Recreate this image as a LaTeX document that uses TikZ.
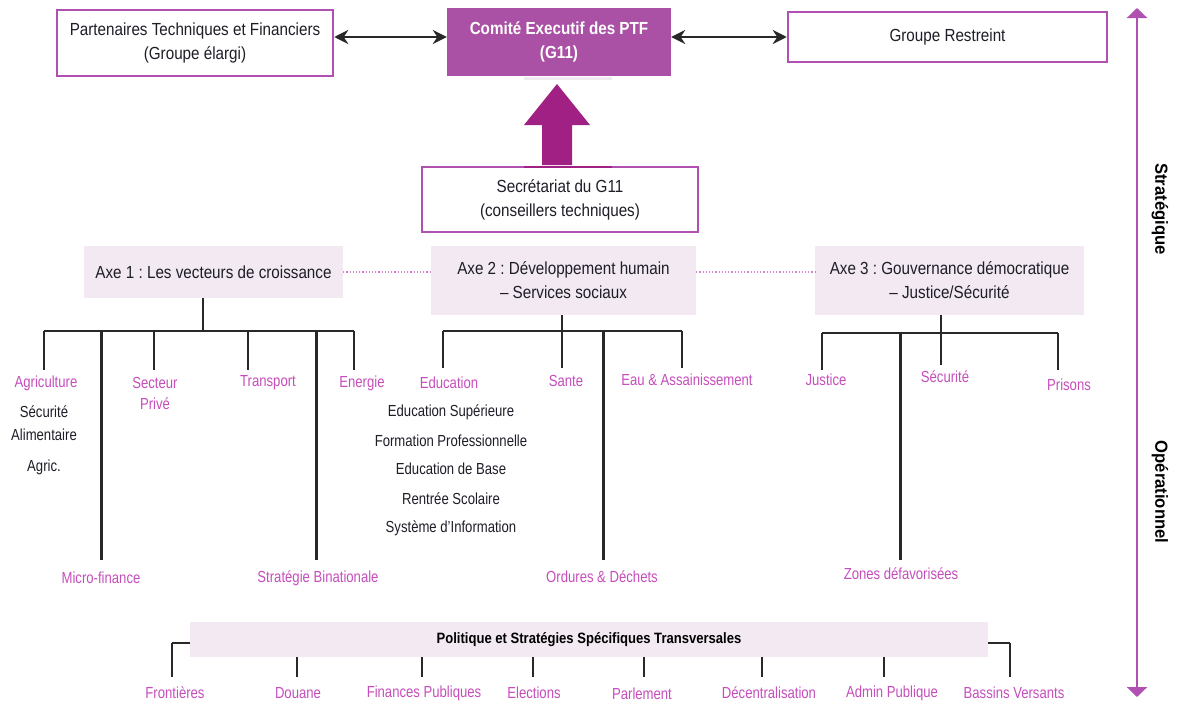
\documentclass[tikz,border=0pt]{standalone}
\usepackage{fontspec}
\setmainfont{Liberation Sans}[FakeStretch=0.87]
\newfontfamily\narrowf{Liberation Sans}[FakeStretch=0.82]
\newfontfamily\vertf{Liberation Sans}[FakeStretch=0.95]
\usetikzlibrary{arrows.meta}
\frenchspacing
\definecolor{boxpurple}{RGB}{176,80,176}
\definecolor{fillpurple}{RGB}{170,80,165}
\definecolor{bigpurple}{RGB}{160,32,132}
\definecolor{labpink}{RGB}{198,78,188}
\definecolor{lilac}{RGB}{242,233,242}
\definecolor{treegray}{RGB}{40,40,40}
\definecolor{dotpink}{RGB}{215,130,205}
\definecolor{txtdark}{RGB}{30,30,40}
\tikzset{
  bigfont/.style={font=\fontsize{17.5}{24}\selectfont},
  wbox/.style={draw=boxpurple, line width=2.5pt, fill=white, bigfont, text=txtdark, align=center, inner sep=0pt},
  pbox/.style={fill=fillpurple, font=\bfseries\fontsize{17.5}{24}\selectfont, text=white, align=center, inner sep=0pt},
  axbox/.style={fill=lilac, bigfont, text=txtdark, align=center, inner sep=0pt},
  lab/.style={font=\narrowf\fontsize{16}{21}\selectfont, text=labpink, align=center, inner sep=0pt},
  sublab/.style={font=\narrowf\fontsize{16}{23}\selectfont, text=txtdark, align=center, inner sep=0pt},
  treeline/.style={draw=treegray, line width=2.4pt},
  thickline/.style={draw=treegray, line width=3pt},
  dbl/.style={draw=treegray, line width=2.8pt, {Stealth[length=14pt,width=14pt]}-{Stealth[length=14pt,width=14pt]}},
  dotl/.style={draw=dotpink, line width=1.2pt, dotted},
  vlab/.style={font=\vertf\bfseries\fontsize{17.5}{20}\selectfont, text=black, rotate=-90, inner sep=0pt},
  axisarrow/.style={draw=boxpurple, line width=2.5pt, {Triangle[length=10pt,width=20pt]}-{Triangle[length=10pt,width=20pt]}},
}
\begin{document}
\begin{tikzpicture}[x=1pt,y=-1pt]
\useasboundingbox (0,0) rectangle (1179,704);
\fill[white] (0,0) rectangle (1179,704);

% top row
\node[wbox, minimum width=276pt, minimum height=66pt] (ptf) at (195,43) {Partenaires Techniques et Financiers\\(Groupe élargi)};
\node[pbox, minimum width=224pt, minimum height=68pt] (cex) at (559,42) {Comité Executif des PTF\\(G11)};
\node[wbox, minimum width=319pt, minimum height=50pt] (gr) at (947.5,37) {Groupe Restreint};
\draw[dbl] (ptf.east |- gr.west) -- (cex.west |- gr.west);
\draw[dbl] (cex.east |- gr.west) -- (gr.west);
\fill[lilac] (524,77) rectangle (612,79.5);

% secretariat and big arrow
\node[wbox, minimum width=276pt, minimum height=65pt] (sec) at (560,199.5) {Secrétariat du G11\\(conseillers techniques)};
\draw[bigpurple, line width=2.5pt] (524,167) -- (612,167);
\fill[bigpurple] (542,165) -- (542,125) -- (524,125) -- (557,84) -- (590,125) -- (572,125) -- (572,165) -- cycle;

% axes
\node[axbox, minimum width=259pt, minimum height=52pt] (ax1) at (213.5,272) {Axe 1 : Les vecteurs de croissance};
\node[axbox, minimum width=265pt, minimum height=69pt] (ax2) at (563.5,280.5) {Axe 2 : Développement humain\\– Services sociaux};
\node[axbox, minimum width=269pt, minimum height=69pt] (ax3) at (949.5,280.5) {Axe 3 : Gouvernance démocratique\\– Justice/Sécurité};
\draw[dotl] (ax1.east) -- (ax1.east -| ax2.west);
\draw[dotl] (ax2.east |- ax1.east) -- (ax1.east -| ax3.west);

% axe 1 tree
\coordinate (a1L) at (44,331);
\coordinate (a1R) at (354,331);
\coordinate (t1a) at (44,370);
\coordinate (t1b) at (101,560);
\coordinate (t1c) at (154,370);
\coordinate (t1d) at (248,370);
\coordinate (t1e) at (316,560);
\coordinate (t1f) at (354,370);
\draw[treeline] (ax1.south -| 203,0) -- (203,331);
\draw[treeline] (a1L) -- (a1R);
\draw[treeline] (t1a |- a1L) -- (t1a);
\draw[thickline] (t1b |- a1L) -- (t1b);
\draw[treeline] (t1c |- a1L) -- (t1c);
\draw[treeline] (t1d |- a1L) -- (t1d);
\draw[thickline] (t1e |- a1L) -- (t1e);
\draw[treeline] (t1f |- a1L) -- (t1f);
\node[lab] (agri) at (46,383) {Agriculture};
\node[sublab] (secu) at (44,423.5) {Sécurité\\Alimentaire};
\node[sublab] (agric) at (44,467) {Agric.};
\node[lab] (micro) at (101,578) {Micro-finance};
\node[lab] (sprive) at (155,393.5) {Secteur\\Privé};
\node[lab] (transp) at (268,383) {Transport};
\node[lab] (strat) at (318,578) {Stratégie Binationale};
\node[lab] (energ) at (362,383) {Energie};

% axe 2 tree
\coordinate (a2L) at (443,331);
\coordinate (a2R) at (682,331);
\coordinate (t2a) at (443,368);
\coordinate (t2b) at (562,368);
\coordinate (t2c) at (603,560);
\coordinate (t2d) at (682,368);
\draw[treeline] (a2L) -- (a2R);
\draw[treeline] (t2b |- ax2.south) -- (t2b);
\draw[treeline] (t2a |- a2L) -- (t2a);
\draw[thickline] (t2c |- a2L) -- (t2c);
\draw[treeline] (t2d |- a2L) -- (t2d);
\node[lab] (educ) at (449,383) {Education};
\node[lab] (sante) at (566,381) {Sante};
\node[lab] (eau) at (687,380) {Eau \& Assainissement};
\node[lab] (ordures) at (602,577) {Ordures \& Déchets};
\node[sublab] (e1) at (451,412) {Education Supérieure};
\node[sublab] (e2) at (451,441) {Formation Professionnelle};
\node[sublab] (e3) at (451,469) {Education de Base};
\node[sublab] (e4) at (451,499) {Rentrée Scolaire};
\node[sublab] (e5) at (451,528) {Système d’Information};

% axe 3 tree
\coordinate (a3L) at (822,333);
\coordinate (a3R) at (1058,333);
\coordinate (t3a) at (822,370);
\coordinate (t3b) at (900,560);
\coordinate (t3c) at (941,365);
\coordinate (t3d) at (1058,370);
\draw[treeline] (a3L) -- (a3R);
\draw[treeline] (t3c |- ax3.south) -- (t3c);
\draw[treeline] (t3a |- a3L) -- (t3a);
\draw[thickline] (t3b |- a3L) -- (t3b);
\draw[treeline] (t3d |- a3L) -- (t3d);
\node[lab] (just) at (826,380) {Justice};
\node[lab] (secur) at (945,377) {Sécurité};
\node[lab] (pris) at (1069,385) {Prisons};
\node[lab] (zones) at (901,574) {Zones défavorisées};

% bottom transversal
\coordinate (bL) at (172,643);
\coordinate (bR) at (1010,643);
\draw[treeline] (bL) -- (bR);
\draw[treeline] (bL) -- (172,677);
\draw[treeline] (bR) -- (1010,677);
\node[axbox, font=\bfseries\fontsize{15}{18}\selectfont, text=black, minimum width=798pt, minimum height=35pt] (pol) at (589,639.5) {Politique et Stratégies Spécifiques Transversales};
\foreach \xx in {297,422,533,644,762,884} {
  \draw[treeline] (\xx,657) -- (\xx,677);
}
\node[lab] (fr) at (175,693) {Frontières};
\node[lab] (dou) at (298,693) {Douane};
\node[lab] (fin) at (424,693) {Finances Publiques};
\node[lab] (ele) at (534,693) {Elections};
\node[lab] (par) at (642,694) {Parlement};
\node[lab] (dec) at (769,693) {Décentralisation};
\node[lab] (adm) at (892,693) {Admin Publique};
\node[lab] (bas) at (1014,693) {Bassins Versants};

% right axis
\coordinate (axTop) at (1137,8);
\coordinate (axBot) at (1137,697);
\draw[axisarrow] (axTop) -- (axBot);
\node[vlab] (strg) at (1160,209) {Stratégique};
\node[vlab] (oper) at (1160,492) {Opérationnel};
\end{tikzpicture}
\end{document}
